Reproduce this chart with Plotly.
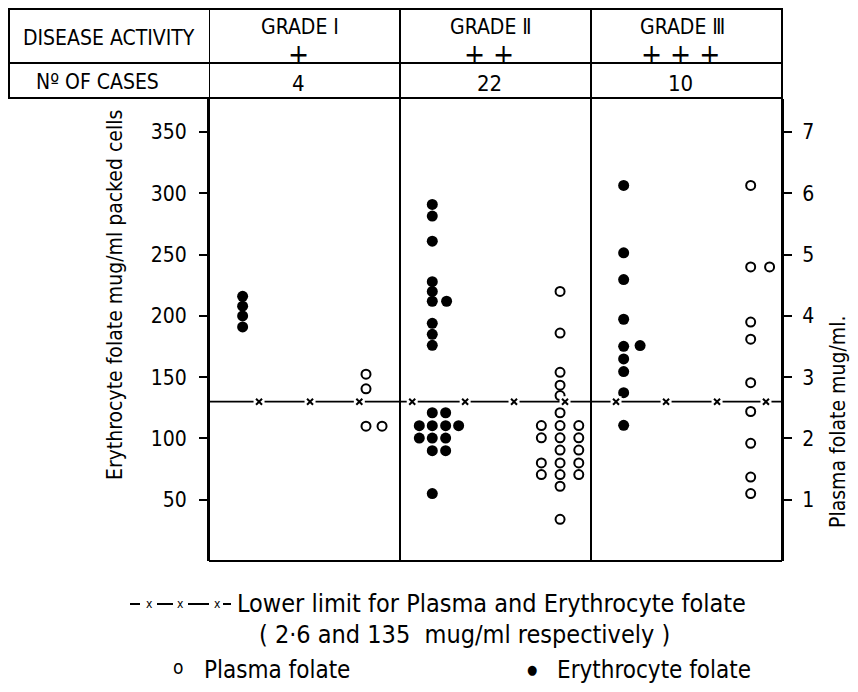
import plotly.graph_objects as go

# ---------------- data ----------------
grade_labels = ["GRADE Ⅰ", "GRADE Ⅱ", "GRADE Ⅲ"]
activity_signs = ["+", "+ +", "+ + +"]
n_cases = ["4", "22", "10"]

# Erythrocyte folate (mug/ml packed cells); x = grade slot position
ery_x = [0.176, 0.176, 0.176, 0.176,
         1.169, 1.169, 1.169, 1.169, 1.169, 1.169, 1.244, 1.169, 1.169, 1.169,
         1.169, 1.239, 1.101, 1.169, 1.239, 1.307, 1.101, 1.169, 1.239, 1.169, 1.239, 1.169,
         2.171, 2.171, 2.171, 2.171, 2.171, 2.257, 2.171, 2.171, 2.171, 2.171]
ery_y = [216, 208, 200, 191,
         291, 281.5, 261, 228, 220, 212, 212, 194, 185, 176,
         121, 121, 110.4, 110.4, 110.4, 110.4, 100.3, 100.3, 100.3, 90, 90, 55,
         306.5, 251.5, 229.7, 197.3, 175.2, 175.8, 164.9, 154.6, 137.4, 110.7]

# Plasma folate (mug/ml)
pla_x = [0.822, 0.822, 0.822, 0.906,
         1.838, 1.838, 1.838, 1.838, 1.838, 1.838, 1.838, 1.838, 1.838, 1.838, 1.838, 1.838, 1.838,
         1.740, 1.740, 1.740, 1.740,
         1.936, 1.936, 1.936, 1.936, 1.936,
         2.836, 2.836, 2.836, 2.836, 2.836, 2.836, 2.836, 2.836, 2.836, 2.935]
pla_y = [3.05, 2.81, 2.20, 2.20,
         4.40, 3.72, 3.08, 2.87, 2.70, 2.42, 2.21, 2.01, 1.81, 1.60, 1.41, 1.22, 0.68,
         2.21, 2.01, 1.60, 1.41,
         2.21, 2.01, 1.81, 1.60, 1.41,
         6.13, 4.80, 3.90, 3.62, 2.91, 2.44, 1.92, 1.37, 1.10, 4.80]

limit_plasma = 2.6
limit_marks_x = [0.262, 0.529, 0.787, 1.064, 1.341, 1.597, 1.864, 2.131, 2.393, 2.660, 2.916]

ery_ticks = [50, 100, 150, 200, 250, 300, 350]
pla_ticks = [1, 2, 3, 4, 5, 6, 7]

# ---------------- layout helpers ----------------
W, H = 858, 692
L, R, T, B = 209, 782, 99, 561
FONT = "Liberation Sans Narrow, DejaVu Sans Condensed, Liberation Sans, sans-serif"


def px(xp):
    return (xp - L) / (R - L)


def py(yp):
    return (B - yp) / (B - T)


fig = go.Figure()

fig.add_trace(go.Scatter(x=ery_x, y=ery_y, mode="markers", yaxis="y",
                         marker=dict(symbol="circle", size=11, color="black"),
                         showlegend=False))
fig.add_trace(go.Scatter(x=pla_x, y=pla_y, mode="markers", yaxis="y2",
                         marker=dict(symbol="circle-open", size=9, color="black",
                                     line=dict(width=2, color="black")),
                         showlegend=False))
fig.add_trace(go.Scatter(x=[0, 3], y=[limit_plasma, limit_plasma], mode="lines", yaxis="y2",
                         line=dict(color="black", width=1.8), showlegend=False))
fig.add_trace(go.Scatter(x=limit_marks_x, y=[limit_plasma] * len(limit_marks_x), mode="markers",
                         yaxis="y2", marker=dict(symbol="square", size=11, color="white"),
                         showlegend=False))
fig.add_trace(go.Scatter(x=limit_marks_x, y=[limit_plasma] * len(limit_marks_x), mode="markers",
                         yaxis="y2", marker=dict(symbol="x-thin", size=6,
                                                 line=dict(width=2, color="black")),
                         showlegend=False))

yr = (B - T) / 1.2253
shapes = []
line = dict(color="black", width=2)
# table outer box and row divider
shapes.append(dict(type="rect", xref="paper", yref="paper", x0=px(9), x1=px(R), y0=py(98), y1=py(9),
                   line=line))
shapes.append(dict(type="line", xref="paper", yref="paper", x0=px(9), x1=px(R), y0=py(63), y1=py(63),
                   line=line))
# grade dividers through table and plot
for gx in [0, 1, 2, 3]:
    shapes.append(dict(type="line", xref="x", yref="paper", x0=gx, x1=gx, y0=0, y1=py(9), line=line))
# bottom frame
shapes.append(dict(type="line", xref="x", yref="paper", x0=0, x1=3, y0=0, y1=0, line=line))
# legend key for lower-limit line: dash segments
for a, b in [(130, 140), (157, 173), (188, 209), (223, 231)]:
    shapes.append(dict(type="line", xref="paper", yref="paper", x0=px(a), x1=px(b),
                       y0=py(604), y1=py(604), line=dict(color="black", width=2)))

ann = []
tf = dict(family=FONT, color="black")


def add_text(text, x, y, size, xanchor="center", **kw):
    ann.append(dict(text=text, x=px(x), y=py(y), xref="paper", yref="paper", showarrow=False,
                    xanchor=xanchor, yanchor="middle", font=dict(tf, size=size), **kw))


add_text("DISEASE ACTIVITY", 109, 38, 21)
add_text("Nº OF CASES", 97, 82, 21)
centers = [300, 491, 682]
for i in range(3):
    add_text(grade_labels[i], centers[i], 27, 21)
    add_text(activity_signs[i], centers[i] - 2, 54, 28)
    add_text(n_cases[i], centers[i] - 2, 83, 22)

add_text("Erythrocyte folate mug/ml packed cells", 115, 295, 21, textangle=-90)
add_text("Plasma folate mug/ml.", 838, 422, 21, textangle=-90)

for xm in [149, 180, 217]:
    add_text("x", xm, 604, 12)
add_text("Lower limit for Plasma and Erythrocyte folate", 235, 603, 25, xanchor="left")
add_text("( 2·6 and 135  mug/ml respectively )", 464, 634, 25)
add_text("o", 178, 667, 19)
add_text("Plasma folate", 202, 670, 24, xanchor="left")
add_text("●", 532, 669, 13)
add_text("Erythrocyte folate", 555, 670, 24, xanchor="left")

fig.update_layout(
    width=W, height=H, template="none",
    paper_bgcolor="white", plot_bgcolor="white",
    margin=dict(l=L, r=W - R, t=T, b=H - B, pad=0),
    xaxis=dict(range=[0, 3], showgrid=False, zeroline=False, showticklabels=False, ticks="",
               automargin=False, fixedrange=True),
    yaxis=dict(range=[0, yr], tickvals=ery_ticks, ticks="outside", ticklen=8, tickwidth=2,
               tickcolor="black", showgrid=False, zeroline=False, showline=True, linewidth=2,
               linecolor="black", tickfont=dict(tf, size=21), automargin=False, ticklabelstandoff=8),
    yaxis2=dict(range=[0, yr / 50], tickvals=pla_ticks, ticks="outside", ticklen=8, tickwidth=2,
                tickcolor="black", showgrid=False, zeroline=False, showline=True, linewidth=2,
                linecolor="black", overlaying="y", side="right", tickfont=dict(tf, size=21),
                automargin=False, ticklabelstandoff=6),
    shapes=shapes, annotations=ann, showlegend=False,
)

fig.write_html("out.html")
